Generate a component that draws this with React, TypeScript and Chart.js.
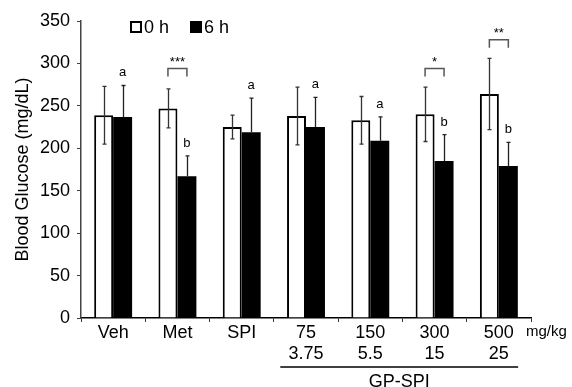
import React, { useEffect, useRef } from "react";
import { Chart, registerables } from "chart.js";

Chart.register(...registerables);

const categories: (string | string[])[] = ["Veh", "Met", "SPI", ["75", "3.75"], ["150", "5.5"], ["300", "15"], ["500", "25"]];
const seriesLabels = ["0 h", "6 h"];
const h0 = [239, 247, 225, 238, 233, 240, 264];
const h0Err = [34, 23, 14, 34, 28, 32, 42];
const h6 = [237, 167, 219, 225, 209, 185, 179];
const h6Err = [37, 24, 40, 35, 28, 31, 28];
const letters = ["a", "b", "a", "a", "a", "b", "b"];
const sigStars = ["", "***", "", "", "", "*", "**"];
const sigLevel: (number | null)[] = [null, 294, null, null, null, 294, 328];
const yTicks = [0, 50, 100, 150, 200, 250, 300, 350];
const unitLabel = "mg/kg";
const groupLabel = "GP-SPI";
const groupFrom = 3;
const groupTo = 6;

const FONT = "'Liberation Sans', Arial, Helvetica, sans-serif";

const annotations = {
  id: "annotations",
  afterDatasetsDraw(chart: any) {
    const ctx = chart.ctx as CanvasRenderingContext2D;
    const ys = chart.scales.y;
    const xs = chart.scales.x;
    const area = chart.chartArea;
    const m0 = chart.getDatasetMeta(0);
    const m1 = chart.getDatasetMeta(1);
    ctx.save();
    // error bars
    const drawErr = (meta: any, vals: number[], errs: number[], color: string, both: boolean) => {
      ctx.strokeStyle = color;
      ctx.lineWidth = 1.3;
      meta.data.forEach((el: any, i: number) => {
        const x = Math.round(el.x) + 0.5;
        const yt = ys.getPixelForValue(vals[i] + errs[i]);
        const yb = both ? ys.getPixelForValue(vals[i] - errs[i]) : ys.getPixelForValue(vals[i]);
        ctx.beginPath();
        ctx.moveTo(x, yt);
        ctx.lineTo(x, yb);
        ctx.moveTo(x - 2, yt);
        ctx.lineTo(x + 2, yt);
        if (both) {
          ctx.moveTo(x - 2, yb);
          ctx.lineTo(x + 2, yb);
        }
        ctx.stroke();
      });
    };
    drawErr(m0, h0, h0Err, "#333", true);
    drawErr(m1, h6, h6Err, "#222", false);

    // letters
    ctx.fillStyle = "#000";
    ctx.font = `13px ${FONT}`;
    ctx.textAlign = "center";
    ctx.textBaseline = "alphabetic";
    m1.data.forEach((el: any, i: number) => {
      const yt = ys.getPixelForValue(h6[i] + h6Err[i]);
      ctx.fillText(letters[i], el.x, yt - 9);
    });

    // significance brackets
    sigLevel.forEach((lvl, i) => {
      if (lvl == null) return;
      const x0 = m0.data[i].x;
      const x1 = m1.data[i].x;
      const yb = ys.getPixelForValue(lvl);
      ctx.strokeStyle = "#555";
      ctx.lineWidth = 1.5;
      ctx.beginPath();
      ctx.moveTo(x0, yb + 8);
      ctx.lineTo(x0, yb);
      ctx.lineTo(x1, yb);
      ctx.lineTo(x1, yb + 8);
      ctx.stroke();
      ctx.fillStyle = "#000";
      ctx.font = `13px ${FONT}`;
      ctx.textAlign = "center";
      ctx.textBaseline = "middle";
      ctx.fillText(sigStars[i], (x0 + x1) / 2, yb - 6);
    });

    // legend
    ctx.font = `18px ${FONT}`;
    ctx.textAlign = "left";
    ctx.textBaseline = "middle";
    const ly = area.top + 6;
    const items = [
      { x: area.left + 49, fill: "#fff", label: seriesLabels[0] },
      { x: area.left + 109, fill: "#000", label: seriesLabels[1] },
    ];
    items.forEach((it) => {
      ctx.fillStyle = it.fill;
      ctx.fillRect(it.x, ly - 6, 12, 12);
      ctx.strokeStyle = "#000";
      ctx.lineWidth = 2;
      ctx.strokeRect(it.x + 1, ly - 5, 10, 10);
      ctx.fillStyle = "#000";
      ctx.fillText(it.label, it.x + 14, ly + 1);
    });

    // unit label
    ctx.font = `15px ${FONT}`;
    ctx.textAlign = "left";
    ctx.textBaseline = "middle";
    ctx.fillText(unitLabel, area.right - 5, area.bottom + 14);

    // group line and label
    const cw = xs.getPixelForValue(1) - xs.getPixelForValue(0);
    const gx0 = xs.getPixelForValue(groupFrom) - 0.4 * cw;
    const gx1 = xs.getPixelForValue(groupTo) + 0.3 * cw;
    const gy = area.bottom + 49;
    ctx.strokeStyle = "#000";
    ctx.lineWidth = 1.5;
    ctx.beginPath();
    ctx.moveTo(gx0, gy);
    ctx.lineTo(gx1, gy);
    ctx.stroke();
    ctx.font = `18px ${FONT}`;
    ctx.textAlign = "center";
    ctx.textBaseline = "middle";
    ctx.fillText(groupLabel, (gx0 + gx1) / 2, gy + 15);
    ctx.restore();
  },
};

export default function App() {
  const ref = useRef<HTMLCanvasElement | null>(null);
  useEffect(() => {
    document.body.style.margin = "0";
    const canvas = ref.current!;
    const chart = new Chart(canvas, {
      type: "bar",
      data: {
        labels: categories as any,
        datasets: [
          {
            label: seriesLabels[0],
            data: h0,
            backgroundColor: "#fff",
            borderColor: "#000",
            borderWidth: 2,
            borderSkipped: "bottom",
          },
          {
            label: seriesLabels[1],
            data: h6,
            backgroundColor: "#000",
            borderColor: "#000",
            borderWidth: 0,
          },
        ],
      },
      options: {
        responsive: false,
        animation: false,
        layout: { padding: { top: 21, right: 41, left: 0, bottom: 0 } },
        datasets: { bar: { categoryPercentage: 0.59, barPercentage: 1 } },
        plugins: { legend: { display: false }, tooltip: { enabled: false } },
        scales: {
          x: {
            afterFit: (s: any) => { s.height = 69; },
            grid: { display: true, drawOnChartArea: false, tickLength: 4, color: "#333", offset: true },
            border: { color: "#000", width: 1.5 },
            ticks: { color: "#000", font: { family: FONT, size: 18, lineHeight: 1.15 }, padding: 1, maxRotation: 0, autoSkip: false },
          },
          y: {
            min: 0,
            max: 350,
            afterFit: (s: any) => { s.width = 81; },
            afterBuildTicks: (s: any) => { s.ticks = yTicks.map((v) => ({ value: v })); },
            grid: { display: true, drawOnChartArea: false, tickLength: 4, color: "#444" },
            border: { color: "#444", width: 1.5 },
            ticks: { color: "#000", font: { family: FONT, size: 18 }, padding: 7 },
            title: { display: true, text: "Blood Glucose (mg/dL)", color: "#000", font: { family: FONT, size: 18 }, padding: { top: 12, bottom: 0 } },
          },
        },
      },
      plugins: [annotations],
    });
    return () => chart.destroy();
  }, []);
  return (
    <div style={{ width: 572, height: 387 }}>
      <canvas ref={ref} width={572} height={387} />
    </div>
  );
}
